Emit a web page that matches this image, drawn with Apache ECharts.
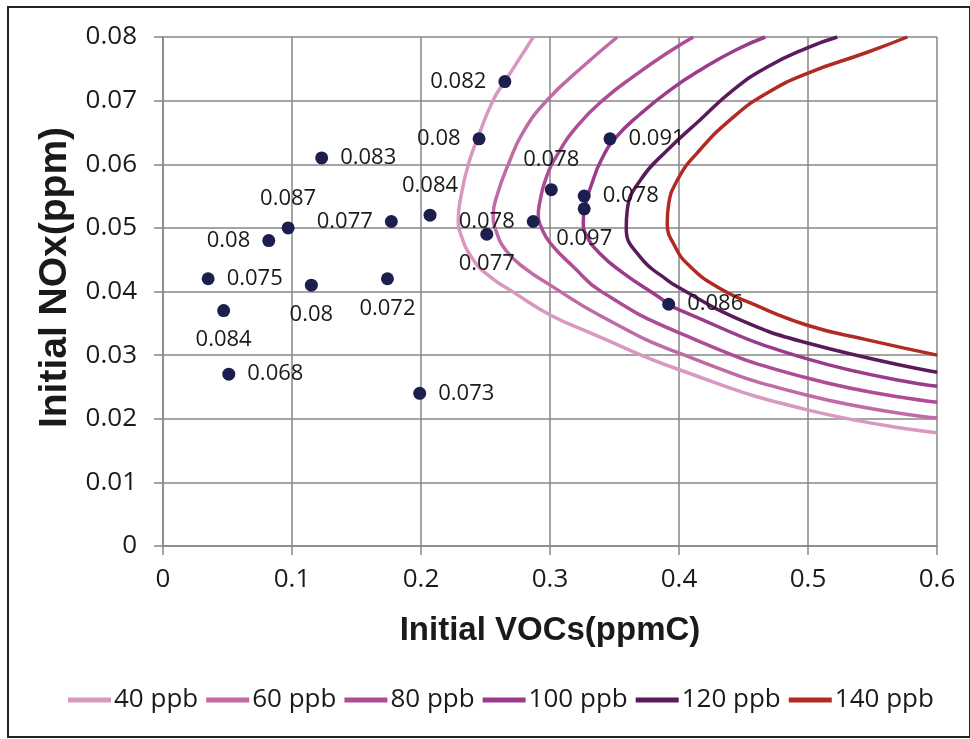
<!DOCTYPE html>
<html>
<head>
<meta charset="utf-8">
<script src="https://cdn.jsdelivr.net/npm/echarts@6/dist/echarts.min.js"></script>
<style>
html,body{margin:0;padding:0;background:#fff;}
#chart{width:970px;height:739px;}
</style>
</head>
<body>
<div id="chart"></div>
<script>
// Measured points: [VOCs, NOx]
const pointXY = [
  [0.265,0.073],[0.245,0.064],[0.123,0.061],[0.097,0.050],[0.082,0.048],
  [0.177,0.051],[0.207,0.052],[0.251,0.049],[0.287,0.051],[0.301,0.056],
  [0.3465,0.064],[0.3265,0.055],[0.3265,0.053],[0.392,0.038],[0.035,0.042],
  [0.115,0.041],[0.174,0.042],[0.047,0.037],[0.051,0.027],[0.199,0.024]
];
const pointLabels = ['0.082','0.08','0.083','0.087','0.08','0.077','0.084','0.077','0.078','0.078',
  '0.091','0.078','0.097','0.086','0.075','0.08','0.072','0.084','0.068','0.073'];
const labelPos = ['left','left','right','top','left','left','top','bottom','left','top',
  'right','right','bottom','right','right','bottom','bottom','bottom','right','right'];

// Ozone isopleths
const seriesNames = ['40 ppb','60 ppb','80 ppb','100 ppb','120 ppb','140 ppb'];
const iso40 = [[0.2871,0.0800],[0.2653,0.0731],[0.2560,0.0701],[0.2437,0.0640],[0.2367,0.0600],[0.2312,0.0552],[0.2289,0.0512],[0.2305,0.0492],[0.2405,0.0450],[0.2537,0.0423],[0.2715,0.0399],[0.3002,0.0363],[0.3312,0.0335],[0.4002,0.0277],[0.4994,0.0214],[0.6002,0.0178]];
const iso60 = [[0.3522,0.0800],[0.3235,0.0750],[0.2979,0.0701],[0.2793,0.0651],[0.2677,0.0600],[0.2591,0.0552],[0.2560,0.0520],[0.2584,0.0494],[0.2661,0.0464],[0.2801,0.0437],[0.3002,0.0410],[0.3390,0.0362],[0.4002,0.0303],[0.4994,0.0237],[0.6002,0.0201]];
const iso80 = [[0.4111,0.0800],[0.3894,0.0773],[0.3661,0.0740],[0.3429,0.0704],[0.3219,0.0662],[0.3057,0.0615],[0.2964,0.0575],[0.2917,0.0536],[0.2909,0.0520],[0.2932,0.0501],[0.3002,0.0476],[0.3181,0.0439],[0.3390,0.0401],[0.4002,0.0335],[0.4994,0.0264],[0.6002,0.0226]];
const iso100 = [[0.4669,0.0800],[0.4444,0.0780],[0.4188,0.0751],[0.3933,0.0717],[0.3700,0.0679],[0.3506,0.0641],[0.3398,0.0607],[0.3320,0.0567],[0.3274,0.0536],[0.3258,0.0510],[0.3281,0.0489],[0.3390,0.0459],[0.3568,0.0429],[0.3832,0.0393],[0.4002,0.0371],[0.4994,0.0294],[0.6002,0.0251]];
const iso120 = [[0.5227,0.0800],[0.4995,0.0783],[0.4684,0.0753],[0.4421,0.0717],[0.4165,0.0670],[0.3909,0.0622],[0.3700,0.0575],[0.3599,0.0528],[0.3591,0.0500],[0.3700,0.0454],[0.3909,0.0418],[0.4002,0.0406],[0.4421,0.0360],[0.4995,0.0319],[0.6002,0.0273]];
const iso140 = [[0.5770,0.0800],[0.5460,0.0776],[0.4995,0.0743],[0.4684,0.0712],[0.4421,0.0674],[0.4142,0.0618],[0.3987,0.0575],[0.3917,0.0533],[0.3909,0.0509],[0.3971,0.0470],[0.4088,0.0439],[0.4297,0.0407],[0.4553,0.0382],[0.4995,0.0347],[0.5460,0.0324],[0.6002,0.0300]];
const isoData = [iso40, iso60, iso80, iso100, iso120, iso140];
const isoColors = ['#d898c0','#c06ba6','#ae4d93','#9a3b8b','#5a1a5c','#b22a24'];

const xTicks = [0,0.1,0.2,0.3,0.4,0.5,0.6];
const yTicks = [0,0.01,0.02,0.03,0.04,0.05,0.06,0.07,0.08];

const chart = echarts.init(document.getElementById('chart'));
const gridColor = '#878787';
const font = "'Open Sans', sans-serif";
const boldFont = "'Liberation Sans', Arial, sans-serif";

const series = isoData.map((d, i) => ({
  name: seriesNames[i],
  type: 'line',
  data: d,
  smooth: 0.5,
  showSymbol: false,
  symbol: 'none',
  lineStyle: {color: isoColors[i], width: 3.5},
  itemStyle: {color: isoColors[i]},
  z: 2
}));
series.push({
  name: 'points',
  type: 'scatter',
  data: pointXY.map((p, i) => ({
    value: p,
    label: {position: labelPos[i], formatter: pointLabels[i]}
  })),
  symbolSize: 13,
  itemStyle: {color: '#1c1e4e', opacity: 1},
  label: {show: true, distance: 12, color: '#1a1a1a', fontSize: 22, fontFamily: font},
  z: 5
});

chart.setOption({
  animation: false,
  backgroundColor: '#fff',
  grid: {left: 163, right: 33, top: 37, bottom: 193, containLabel: false},
  xAxis: {
    type: 'value', min: 0, max: 0.6, interval: 0.1,
    name: 'Initial VOCs(ppmC)', nameLocation: 'middle', nameGap: 68,
    nameTextStyle: {fontSize: 33, fontWeight: 'bold', color: '#1a1a1a', fontFamily: boldFont},
    axisLine: {show: true, lineStyle: {color: gridColor, width: 1.5}},
    axisTick: {show: true, length: 9, lineStyle: {color: gridColor, width: 1.5}},
    axisLabel: {margin: 21, fontSize: 26, color: '#1a1a1a', fontFamily: font,
      formatter: v => xTicks.includes(+v.toFixed(2)) ? String(+v.toFixed(2)) : ''},
    splitLine: {show: true, lineStyle: {color: gridColor, width: 1.5}}
  },
  yAxis: {
    type: 'value', min: 0, max: 0.08, interval: 0.01,
    name: 'Initial NOx(ppm)', nameLocation: 'middle', nameGap: 72,
    nameTextStyle: {fontSize: 39, fontWeight: 'bold', color: '#1a1a1a', fontFamily: boldFont, padding: [0,0,0,28]},
    axisLine: {show: true, lineStyle: {color: gridColor, width: 1.5}},
    axisTick: {show: true, length: 9, lineStyle: {color: gridColor, width: 1.5}},
    axisLabel: {margin: 26, fontSize: 26, color: '#1a1a1a', fontFamily: font,
      formatter: v => yTicks.includes(+v.toFixed(2)) ? String(+v.toFixed(2)) : ''},
    splitLine: {show: true, lineStyle: {color: gridColor, width: 1.5}}
  },
  legend: {
    data: seriesNames,
    bottom: 21, left: 63,
    icon: 'rect', itemWidth: 43, itemHeight: 5, itemGap: 8,
    textStyle: {fontSize: 26, color: '#1a1a1a', fontFamily: font, padding: [0,0,0,-2]}
  },
  graphic: [{
    type: 'rect', shape: {x: 8, y: 7, width: 962, height: 730},
    style: {fill: 'none', stroke: '#222', lineWidth: 2}, silent: true, z: 100
  }],
  series: series
});
</script>
</body>
</html>
